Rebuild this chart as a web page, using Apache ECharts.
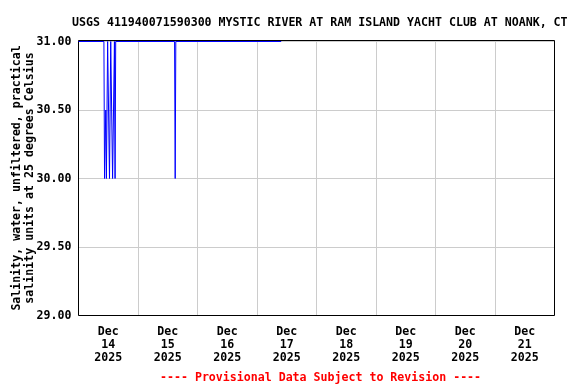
<!DOCTYPE html>
<html><head><meta charset="utf-8">
<script src="https://cdn.jsdelivr.net/npm/echarts@6/dist/echarts.min.js"></script>
<style>html,body{margin:0;padding:0;background:#fff}#c{width:576px;height:384px}</style>
</head><body><div id="c"></div>
<script>
const titleText = 'USGS 411940071590300 MYSTIC RIVER AT RAM ISLAND YACHT CLUB AT NOANK, CT';
const yAxisName = 'Salinity, water, unfiltered, practical\nsalinity units at 25 degrees Celsius';
const footerText = '---- Provisional Data Subject to Revision ----';
const dayLabels = ['Dec\n14\n2025','Dec\n15\n2025','Dec\n16\n2025','Dec\n17\n2025','Dec\n18\n2025','Dec\n19\n2025','Dec\n20\n2025','Dec\n21\n2025'];
// observation times and salinity values
const times = [
  '2025-12-14T00:00','2025-12-14T10:15','2025-12-14T10:30','2025-12-14T10:45','2025-12-14T11:00',
  '2025-12-14T11:15','2025-12-14T11:30','2025-12-14T11:45','2025-12-14T12:15','2025-12-14T12:30',
  '2025-12-14T12:45','2025-12-14T13:00','2025-12-14T13:30','2025-12-14T13:45','2025-12-14T14:15',
  '2025-12-14T14:30','2025-12-14T14:45','2025-12-14T15:00',
  '2025-12-15T14:45','2025-12-15T15:00','2025-12-15T15:15',
  '2025-12-17T09:45'
];
const values = [
  31.0,31.0,30.0,30.0,30.5,
  30.0,30.0,31.0,31.0,30.0,
  30.0,31.0,31.0,30.0,30.0,
  31.0,30.0,31.0,
  31.0,30.0,31.0,
  31.0
];
const yMin = 29, yMax = 31, yStep = 0.5;
const xStart = '2025-12-14T00:00', xEnd = '2025-12-22T00:00';

const ms = s => Date.parse(s + ':00Z');
const DAY = 86400000;
const font = 'DejaVu Sans Mono';
const chart = echarts.init(document.getElementById('c'), null, {renderer:'canvas'});
chart.setOption({
  backgroundColor:'#fff',
  animation:false,
  title:[
    {text:titleText, left:67, top:12, textStyle:{fontFamily:font, fontWeight:'bold', fontSize:11.6, color:'#000'}},
    {text:footerText, left:155, top:367, textStyle:{fontFamily:font, fontWeight:'bold', fontSize:11.6, color:'#ff0000'}}
  ],
  grid:{left:78.5, right:21.5, top:40.5, bottom:68.5, outerBoundsMode:'none', containLabel:false, z:3,
    show:true, borderColor:'#000', borderWidth:1, backgroundColor:'transparent'},
  xAxis:[
    {type:'value', min:ms(xStart), max:ms(xEnd), interval:DAY,
     axisLine:{show:false}, axisTick:{show:false}, axisLabel:{show:false},
     splitLine:{show:true, lineStyle:{color:'#cccccc', width:1}}},
    {type:'category', data:dayLabels, boundaryGap:true, position:'bottom',
     axisLine:{show:false}, axisTick:{show:false}, splitLine:{show:false},
     axisLabel:{interval:0, margin:10, lineHeight:13, fontFamily:font, fontWeight:'bold', fontSize:11.6, color:'#000'}}
  ],
  yAxis:{type:'value', min:yMin, max:yMax + 0.0073, interval:yStep,
    name:yAxisName, nameLocation:'middle', nameGap:42, nameRotate:90, nameMoveOverlap:false,
    nameTextStyle:{fontFamily:font, fontWeight:'bold', fontSize:11.6, color:'#000', lineHeight:13},
    axisLine:{show:false}, axisTick:{show:false},
    axisLabel:{margin:7, fontFamily:font, fontWeight:'bold', fontSize:11.6, color:'#000',
      formatter:v => (Math.abs(v/yStep - Math.round(v/yStep)) < 1e-6) ? v.toFixed(2) : ''},
    splitLine:{show:true, lineStyle:{color:'#cccccc', width:1}}},
  series:[{type:'line', xAxisIndex:0, data:times.map((t,i)=>[ms(t), values[i]]), z:5,
    showSymbol:false, symbol:'none', lineStyle:{color:'#0000ff', width:1}, itemStyle:{color:'#0000ff'}, clip:true}]
});
</script></body></html>
